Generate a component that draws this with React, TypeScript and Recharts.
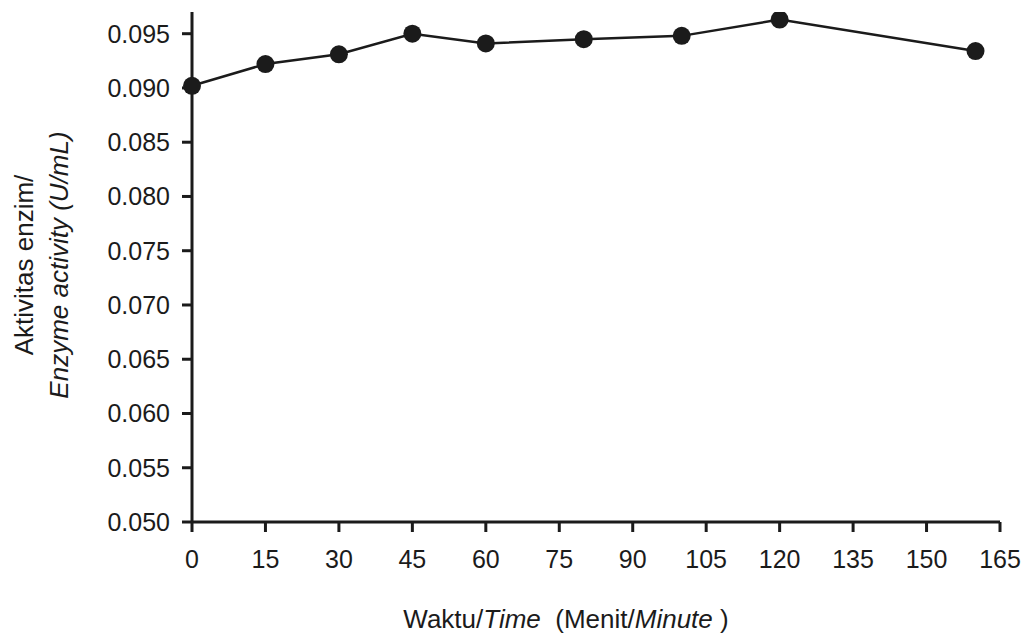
import React from 'react';
import { LineChart, Line, XAxis, YAxis, Label } from 'recharts';

// waktu (menit) dan aktivitas enzim (U/mL)
const times = [0, 15, 30, 45, 60, 80, 100, 120, 160];
const activity = [0.0902, 0.0922, 0.0931, 0.095, 0.0941, 0.0945, 0.0948, 0.0963, 0.0934];

const xTicks = [0, 15, 30, 45, 60, 75, 90, 105, 120, 135, 150, 165];
const yTicks = [0.05, 0.055, 0.06, 0.065, 0.07, 0.075, 0.08, 0.085, 0.09, 0.095];

const data = times.map((t, i) => ({ time: t, value: activity[i] }));

const ink = '#1b1b1b';
const font = '"Liberation Sans", Arial, sans-serif';

const YTitle = (props: any) => {
    const { x, y, height } = props.viewBox;
    const cx = x + 33;
    const cy = y + height / 2 - 2;
    return (
        <text transform={`rotate(-90, ${cx}, ${cy})`} x={cx} y={cy} textAnchor="middle" fontSize={26} fill={ink} fontFamily={font}>
            <tspan x={cx} dy={0}>Aktivitas enzim/</tspan>
            <tspan x={cx} dy={35} fontStyle="italic">Enzyme activity (U/mL)</tspan>
        </text>
    );
};

const XTitle = (props: any) => {
    const { x, width, y } = props.viewBox;
    return (
        <text x={x + width / 2 - 30} y={y + 106} textAnchor="middle" fontSize={26} fill={ink} fontFamily={font}>
            <tspan>Waktu/</tspan>
            <tspan fontStyle="italic">Time</tspan>
            <tspan>{'\u00a0 (Menit/'}</tspan>
            <tspan fontStyle="italic">Minute</tspan>
            <tspan>{' )'}</tspan>
        </text>
    );
};

export default function App() {
    return (
        <div style={{ position: 'absolute', left: 0, top: 0, width: 1025, height: 640, background: '#fff' }}>
            <LineChart width={1025} height={640} data={data} margin={{ top: 12, right: 25, bottom: 78, left: 0 }}>
                <XAxis
                    dataKey="time"
                    type="number"
                    domain={[0, 165]}
                    ticks={xTicks}
                    height={40}
                    axisLine={{ stroke: ink, strokeWidth: 3 }}
                    tickLine={{ stroke: ink, strokeWidth: 3 }}
                    tickSize={10}
                    tickMargin={18}
                    tick={{ fill: ink, fontSize: 25, fontFamily: font }}
                    interval={0}
                >
                    <Label content={XTitle} />
                </XAxis>
                <YAxis
                    type="number"
                    domain={[0.05, 0.097]}
                    ticks={yTicks}
                    width={192}
                    axisLine={{ stroke: ink, strokeWidth: 3 }}
                    tickLine={{ stroke: ink, strokeWidth: 3 }}
                    tickSize={10}
                    tickMargin={12}
                    tick={{ fill: ink, fontSize: 25, fontFamily: font }}
                    tickFormatter={(v: number) => v.toFixed(3)}
                    interval={0}
                    allowDataOverflow
                >
                    <Label content={YTitle} />
                </YAxis>
                <Line
                    dataKey="value"
                    stroke={ink}
                    strokeWidth={2.5}
                    dot={{ r: 9, fill: ink, stroke: ink, strokeWidth: 0 }}
                    isAnimationActive={false}
                />
            </LineChart>
        </div>
    );
}
